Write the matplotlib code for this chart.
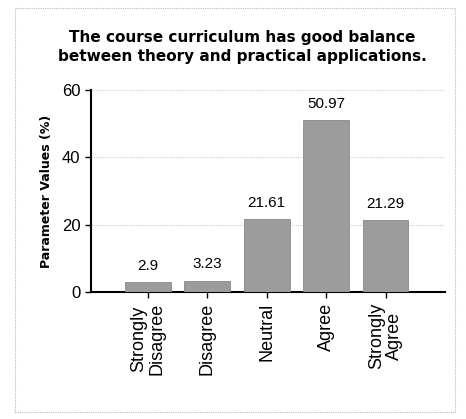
import matplotlib
matplotlib.use("Agg")
import matplotlib.pyplot as plt
from matplotlib.patches import Rectangle

categories = ["Strongly\nDisagree", "Disagree", "Neutral", "Agree", "Strongly\nAgree"]
values = [2.9, 3.23, 21.61, 50.97, 21.29]
value_labels = ["2.9", "3.23", "21.61", "50.97", "21.29"]
yticks = [0, 20, 40, 60]
title = "The course curriculum has good balance\nbetween theory and practical applications."
ylabel = "Parameter Values (%)"

fig = plt.figure(figsize=(4.66, 4.19), dpi=100)
ax = fig.add_axes([0.195, 0.303, 0.76, 0.482])

x = list(range(len(categories)))
ax.bar(x, values, width=0.77, color="#9c9c9c", edgecolor="#888888", linewidth=0.6, zorder=3)
for xi, v, lab in zip(x, values, value_labels):
    ax.annotate(lab, (xi, v), xytext=(0, 7), textcoords="offset points",
                ha="center", va="bottom", fontsize=11, family="Liberation Sans")

ax.set_xlim(-0.96, 5.0)
ax.set_ylim(0, 60)
ax.set_yticks(yticks)
ax.set_xticks(x)
ax.set_xticklabels(categories, rotation=90, fontsize=13, family="Liberation Sans", linespacing=1.1)
for lab in ax.get_yticklabels():
    lab.set_fontsize(12)
    lab.set_family("Liberation Sans")
ax.yaxis.grid(True, color="#cccccc", linestyle=(0, (1, 1)), linewidth=0.8, zorder=0)
for s in ["top", "right"]:
    ax.spines[s].set_visible(False)
ax.spines["left"].set_linewidth(1.5)
ax.spines["bottom"].set_linewidth(1.5)
ax.tick_params(axis="both", length=4, width=1)
ax.set_ylabel(ylabel, fontsize=9, fontweight="bold", labelpad=6)

fig.text(0.52, 0.888, title, ha="center", va="center", fontsize=11, fontweight="bold", linespacing=1.3)

fig.patches.append(Rectangle((0.033, 0.017), 0.944, 0.965, transform=fig.transFigure,
                             fill=False, edgecolor="#bbbbbb", linestyle=(0, (1, 1)), linewidth=0.8))

fig.savefig("out.png", dpi=100)
